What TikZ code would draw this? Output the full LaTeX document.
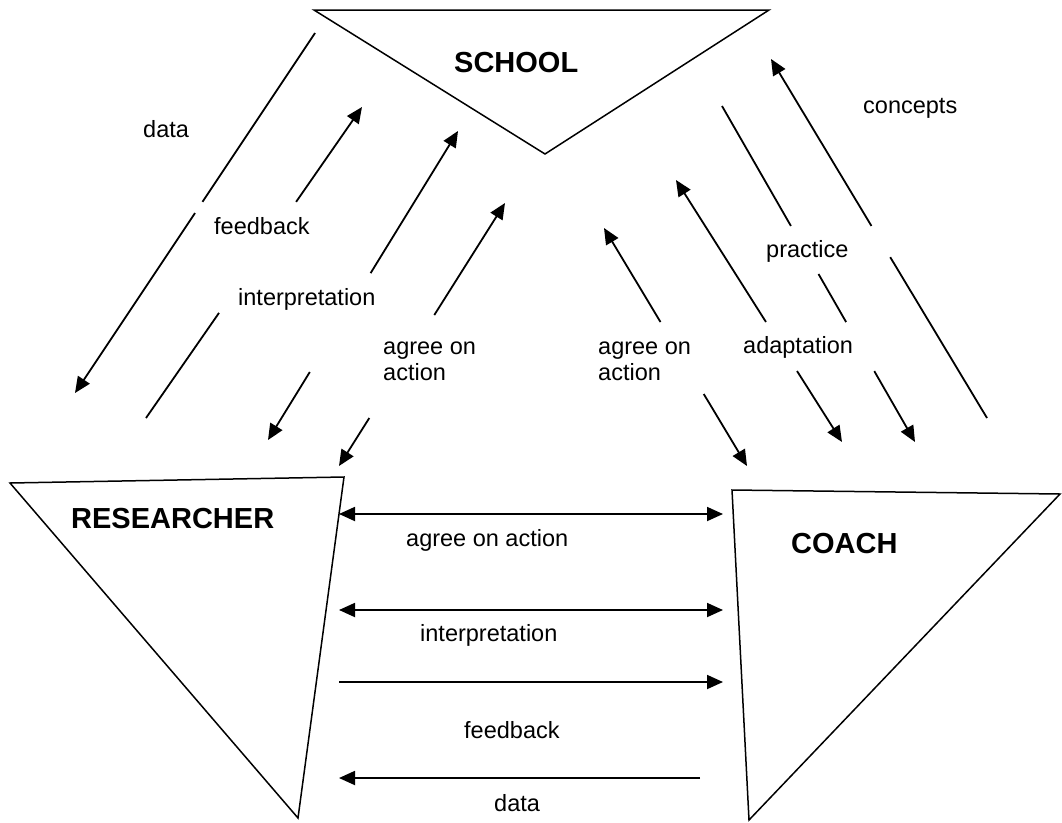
\documentclass[tikz,border=0pt]{standalone}
\usepackage{fontspec}
\setmainfont{Liberation Sans}
\usetikzlibrary{arrows.meta,calc}
\begin{document}
\begin{tikzpicture}[x=1pt,y=-1pt,
  flow/.style={line width=1.8pt},
  fwd/.style={-{Triangle[length=16pt,width=14pt]}},
  bwd/.style={{Triangle[length=16pt,width=14pt]}-},
  twoway/.style={{Triangle[length=16pt,width=14pt]}-{Triangle[length=16pt,width=14pt]}},
  party/.style={line width=1.5pt, line join=miter},
  lbl/.style={font=\fontsize{23.5}{26}\selectfont, inner sep=0pt, anchor=base west, align=left},
  who/.style={font=\fontsize{29}{32}\selectfont\bfseries, inner sep=0pt, anchor=base west}]
\useasboundingbox (0,0) rectangle (1062,822);

% ---- the three parties ----
\coordinate (sc1) at (314,10);  \coordinate (sc2) at (769,10);  \coordinate (sc3) at (545,154);
\coordinate (rs1) at (10,483);  \coordinate (rs2) at (344,477); \coordinate (rs3) at (298,818);
\coordinate (co1) at (732,490); \coordinate (co2) at (1060,494); \coordinate (co3) at (749,820);
\draw[party] (sc1) -- (sc2) -- (sc3) -- cycle;
\draw[party] (rs1) -- (rs2) -- (rs3) -- cycle;
\draw[party] (co1) -- (co2) -- (co3) -- cycle;
\node[who] (school) at (454,72) {SCHOOL};
\node[who] (researcher) at (71,528) {RESEARCHER};
\node[who] (coach) at (791,553) {COACH};

% ---- school <-> researcher (each line broken where its label sits) ----
\coordinate (dataS) at (315,33);  \coordinate (dataE) at (75,393);
\draw[flow,fwd] (dataS) -- ($(dataS)!0.469!(dataE)$) ($(dataS)!0.5!(dataE)$) -- (dataE);
\coordinate (fbS) at (146,418);   \coordinate (fbE) at (362,107);
\draw[flow,fwd] (fbS) -- ($(fbS)!0.338!(fbE)$) ($(fbS)!0.695!(fbE)$) -- (fbE);
\coordinate (inS) at (268,440);   \coordinate (inE) at (458,131);
\draw[flow,bwd] (inS) -- ($(inS)!0.22!(inE)$);
\draw[flow,fwd] ($(inS)!0.54!(inE)$) -- (inE);
\coordinate (agS) at (339,466);   \coordinate (agE) at (505,203);
\draw[flow,bwd] (agS) -- ($(agS)!0.1825!(agE)$);
\draw[flow,fwd] ($(agS)!0.574!(agE)$) -- (agE);

\node[lbl] (ldata) at (143,137) {data};
\node[lbl] (lfb) at (214,234) {feedback};
\node[lbl] (lin) at (238,305) {interpretation};
\node[lbl] (lag) at (383,380) {agree on\\action};

% ---- school <-> coach ----
\coordinate (acS) at (747,466);   \coordinate (acE) at (604,228);
\draw[flow,bwd] (acS) -- ($(acS)!0.3025!(acE)$);
\draw[flow,fwd] ($(acS)!0.605!(acE)$) -- (acE);
\coordinate (adS) at (842,442);   \coordinate (adE) at (676,180);
\draw[flow,bwd] (adS) -- ($(adS)!0.271!(adE)$);
\draw[flow,fwd] ($(adS)!0.458!(adE)$) -- (adE);
\coordinate (prS) at (722,106);   \coordinate (prE) at (915,442);
\draw[flow,fwd] (prS) -- ($(prS)!0.357!(prE)$) ($(prS)!0.5!(prE)$) -- ($(prS)!0.643!(prE)$)
                ($(prS)!0.789!(prE)$) -- (prE);
\coordinate (cnS) at (987,418);   \coordinate (cnE) at (771,59);
\draw[flow,fwd] (cnS) -- ($(cnS)!0.448!(cnE)$) ($(cnS)!0.535!(cnE)$) -- (cnE);

\node[lbl] (rag) at (598,380) {agree on\\action};
\node[lbl] (rad) at (743,353) {adaptation};
\node[lbl] (rpr) at (766,257) {practice};
\node[lbl] (rcn) at (863,113) {concepts};

% ---- researcher <-> coach ----
\coordinate (h1L) at (339,514); \coordinate (h1R) at (723,514);
\coordinate (h2L) at (339,610); \coordinate (h2R) at (723,610);
\coordinate (h3L) at (339,682); \coordinate (h3R) at (723,682);
\coordinate (h4L) at (339,778); \coordinate (h4R) at (700,778);
\draw[flow,twoway] (h1L) -- (h1R);
\draw[flow,twoway] (h2L) -- (h2R);
\draw[flow,fwd] (h3L) -- (h3R);
\draw[flow,fwd] (h4R) -- (h4L);

\node[lbl] (bag) at (406,546) {agree on action};
\node[lbl] (bin) at (420,641) {interpretation};
\node[lbl] (bfb) at (464,738) {feedback};
\node[lbl] (bda) at (494,811) {data};
\end{tikzpicture}
\end{document}
